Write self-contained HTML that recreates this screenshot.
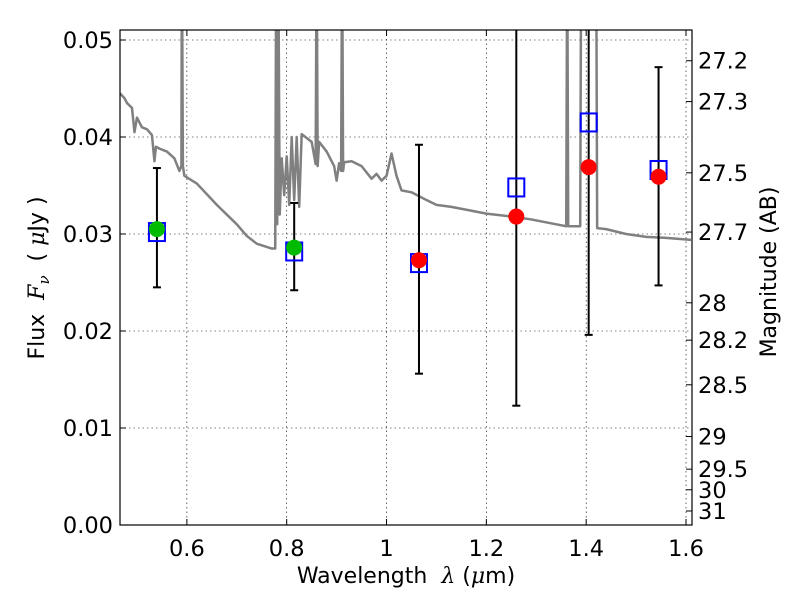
<!DOCTYPE html>
<html><head><meta charset="utf-8"><style>
body{margin:0;background:#fff;}
svg{font-family:"DejaVu Sans","Liberation Sans",sans-serif;}
</style></head><body>
<svg id="c" width="800" height="600" viewBox="0 0 800 600">
<defs><clipPath id="clip"><rect x="120" y="30" width="572" height="495"/></clipPath></defs>
<g id="grid"></g>
<g id="spec" clip-path="url(#clip)"></g>
<g id="marks" clip-path="url(#clip)"></g>
<rect x="120" y="30" width="572" height="495" fill="none" stroke="#000" stroke-width="1.2"/>
<g id="axes"></g>
<text x="406" y="583" font-size="22" text-anchor="middle">Wavelength&#160;&#160;<tspan font-style="italic" font-family="DejaVu Serif,serif">λ</tspan> (<tspan font-style="italic" font-family="DejaVu Serif,serif">μ</tspan>m)</text>
<text transform="translate(44,278) rotate(-90)" font-size="22" text-anchor="middle">Flux&#160;&#160;<tspan font-style="italic" font-family="DejaVu Serif,serif">F</tspan><tspan font-style="italic" font-size="15" dy="5" font-family="DejaVu Serif,serif">ν</tspan><tspan dy="-5">&#160;&#160;( </tspan><tspan font-style="italic" font-family="DejaVu Serif,serif">μ</tspan>Jy )</text>
<text transform="translate(776,272) rotate(-90)" font-size="22" text-anchor="middle">Magnitude (AB)</text>
</svg>
<script>
const xTicks=[0.6,0.8,1.0,1.2,1.4,1.6];
const xTickLabels=["0.6","0.8","1","1.2","1.4","1.6"];
const yTicks=[0,0.01,0.02,0.03,0.04,0.05];
const yTickLabels=["0.00","0.01","0.02","0.03","0.04","0.05"];
const magTicks=[27.2,27.3,27.5,27.7,28,28.2,28.5,29,29.5,30,31];
const magLabels=["27.2","27.3","27.5","27.7","28","28.2","28.5","29","29.5","30","31"];
const bandX=[0.54,0.815,1.065,1.26,1.405,1.545];
const obsFlux=[0.0305,0.0286,0.0273,0.0318,0.0369,0.0359];
const obsColor=["#00bb00","#00bb00","red","red","red","red"];
const modelFlux=[0.0302,0.0282,0.027,0.0348,0.0415,0.0366];
const errLow=[0.0245,0.0242,0.0156,0.0123,0.0196,0.0247];
const errHigh=[0.0368,0.0332,0.0392,0.06,0.06,0.0472];
const specX=[0.466,0.475,0.48,0.49,0.495,0.50,0.505,0.51,0.52,0.53,0.535,0.538,0.545,0.56,0.575,0.585,0.589,0.590,0.592,0.595,0.62,0.66,0.70,0.72,0.74,0.77,0.777,0.779,0.781,0.783,0.786,0.79,0.795,0.80,0.805,0.81,0.815,0.82,0.825,0.83,0.85,0.858,0.860,0.862,0.865,0.88,0.895,0.90,0.905,0.909,0.911,0.913,0.915,0.93,0.95,0.97,0.98,0.99,1.00,1.01,1.02,1.03,1.05,1.08,1.10,1.13,1.16,1.20,1.25,1.29,1.34,1.36,1.362,1.364,1.388,1.390,1.392,1.42,1.422,1.44,1.48,1.52,1.56,1.61];
const specY=[0.0445,0.044,0.0435,0.043,0.0405,0.042,0.0415,0.041,0.0408,0.0402,0.0375,0.039,0.0388,0.0385,0.0378,0.0365,0.037,0.06,0.037,0.036,0.0352,0.033,0.031,0.0298,0.029,0.0285,0.0285,0.06,0.031,0.06,0.032,0.0378,0.034,0.038,0.033,0.040,0.0335,0.040,0.0328,0.0403,0.0395,0.0372,0.06,0.037,0.0395,0.0385,0.037,0.0355,0.0373,0.0365,0.06,0.0365,0.0374,0.0375,0.037,0.0357,0.0362,0.0355,0.036,0.0383,0.036,0.0345,0.0343,0.0335,0.033,0.0328,0.0325,0.0321,0.0318,0.0315,0.031,0.0308,0.06,0.0308,0.0308,0.06,0.06,0.06,0.0306,0.0305,0.03,0.0297,0.0296,0.0294];
const X=v=>120+(v-0.466)*(572/(1.612-0.466));
const Y=v=>525-v*9700;
const ns="http://www.w3.org/2000/svg";
function mk(t,a,p){const e=document.createElementNS(ns,t);for(const k in a)e.setAttribute(k,a[k]);p.appendChild(e);return e;}
const grid=document.getElementById('grid'),axes=document.getElementById('axes');
xTicks.forEach((t,i)=>{const x=X(t);
 const g=mk('line',{x1:x,x2:x,y1:30,y2:525,stroke:'#000','stroke-width':0.6,'stroke-dasharray':'1.5,3'},grid);
 
 
 mk('line',{x1:x,x2:x,y1:525,y2:519,stroke:'#000'},axes);
 mk('line',{x1:x,x2:x,y1:30,y2:36,stroke:'#000'},axes);
 const tx=mk('text',{x:x,y:556,'font-size':22.5,'text-anchor':'middle'},axes);tx.textContent=xTickLabels[i];
 
 
});
yTicks.forEach((t,i)=>{const y=Y(t);
 const g=mk('line',{x1:120,x2:692,y1:y,y2:y,stroke:'#000','stroke-width':0.6,'stroke-dasharray':'1.5,3'},grid);
 
 
 mk('line',{x1:120,x2:126,y1:y,y2:y,stroke:'#000'},axes);
 const tx=mk('text',{x:113,y:y+8,'font-size':22.5,'text-anchor':'end'},axes);tx.textContent=yTickLabels[i];
 
 
});
magTicks.forEach((m,i)=>{const y=Y(Math.pow(10,(23.9-m)/2.5));
 mk('line',{x1:686,x2:692,y1:y,y2:y,stroke:'#000'},axes);
 const tx=mk('text',{x:698,y:y+8,'font-size':22.5},axes);tx.textContent=magLabels[i];
 
 
});
const sp=document.getElementById('spec');
const pl=mk('polyline',{points:specX.map((x,i)=>X(x)+','+Y(specY[i])).join(' '),fill:'none',stroke:'#808080','stroke-width':2.5,'stroke-linejoin':'round'},sp);


const mg=document.getElementById('marks');
bandX.forEach((b,i)=>{const x=X(b);
 const e=mk('line',{x1:x,x2:x,y1:Y(errLow[i]),y2:Y(errHigh[i]),stroke:'#000','stroke-width':2},mg);
 
 
 mk('line',{x1:x-4,x2:x+4,y1:Y(errLow[i]),y2:Y(errLow[i]),stroke:'#000','stroke-width':2},mg);
 mk('line',{x1:x-4,x2:x+4,y1:Y(errHigh[i]),y2:Y(errHigh[i]),stroke:'#000','stroke-width':2},mg);
 const s=mk('rect',{x:x-8,y:Y(modelFlux[i])-9,width:16,height:18,fill:'none',stroke:'#0000ff','stroke-width':2},mg);
 
 
 const c=mk('circle',{cx:x,cy:Y(obsFlux[i]),r:8,fill:obsColor[i]},mg);
 
 
});
</script>
</body></html>
